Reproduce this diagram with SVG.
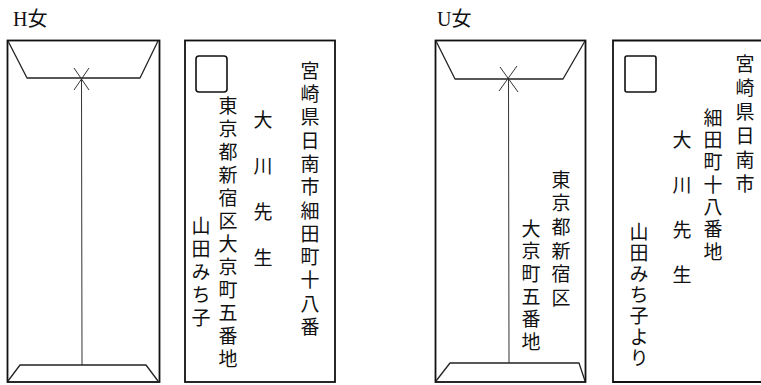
<svg xmlns="http://www.w3.org/2000/svg" width="761" height="385" viewBox="0 0 761 385">
<style>
.bg{fill:#fff}
.edge{fill:none;stroke:#111;stroke-width:1.8}
.fold{fill:none;stroke:#222;stroke-width:1.3;stroke-linejoin:round}
.thin{fill:none;stroke:#333;stroke-width:1}
.stamp{fill:none;stroke:#111;stroke-width:1.6}
.lbl{font-family:"Liberation Serif","Noto Sans CJK JP",serif;font-size:20px;fill:#111}
.v{font-family:"Noto Sans CJK JP",sans-serif;font-size:19px;fill:#111;writing-mode:vertical-rl;font-weight:400}
</style>
<rect class="bg" x="0" y="0" width="761" height="385"/>

<g id="label-h"><text class="lbl" x="13" y="26">H女</text></g>
<g id="label-u"><text class="lbl" x="437" y="26">U女</text></g>

<g id="h-envelope-back">
  <rect class="edge" x="7.5" y="40.5" width="152" height="341.5"/>
  <polyline class="fold" points="8,41 27,78 140,78 158,41"/>
  <polyline class="fold" points="8,381 20,365 146,365 158,381"/>
  <line class="thin" x1="74" y1="68" x2="89" y2="90"/>
  <line class="thin" x1="89" y1="68" x2="74" y2="90"/>
  <line class="thin" x1="81.5" y1="79" x2="82" y2="365"/>
</g>

<g id="h-envelope-front">
  <rect class="edge" x="185" y="40.5" width="150" height="341.5"/>
  <rect class="stamp" x="196" y="56" width="31" height="36" rx="3"/>
  <text class="v" x="310" y="61" style="letter-spacing:4.3px">宮崎県日南市細田町十八番</text>
  <text class="v" x="263" y="110" style="letter-spacing:27px">大川先生</text>
  <text class="v" x="228" y="96" style="letter-spacing:4px">東京都新宿区大京町五番地</text>
  <text class="v" x="201" y="216" style="letter-spacing:4px">山田みち子</text>
</g>

<g id="u-envelope-back">
  <rect class="edge" x="435.5" y="40.5" width="150" height="341.5"/>
  <polyline class="fold" points="436,41 455,79 563,79 585,41"/>
  <polyline class="fold" points="436,381 450,363 579,363 585,381"/>
  <line class="thin" x1="500" y1="67" x2="518" y2="92"/>
  <line class="thin" x1="517" y1="66" x2="499" y2="91"/>
  <line class="thin" x1="508.5" y1="79" x2="509" y2="363"/>
  <text class="v" x="561" y="170" style="letter-spacing:4.6px">東京都新宿区</text>
  <text class="v" x="531" y="219" style="letter-spacing:3.6px">大京町五番地</text>
</g>

<g id="u-envelope-front">
  <polyline class="edge" points="765,40.5 613,40.5 613,382 765,382"/>
  <rect class="stamp" x="625" y="56" width="31" height="36" rx="2"/>
  <text class="v" x="745" y="54" style="letter-spacing:5px">宮崎県日南市</text>
  <text class="v" x="713" y="108" style="letter-spacing:3.3px">細田町十八番地</text>
  <text class="v" x="682" y="130" style="letter-spacing:26px">大川先生</text>
  <text class="v" x="639" y="222" style="letter-spacing:2px">山田みち子より</text>
</g>
</svg>
